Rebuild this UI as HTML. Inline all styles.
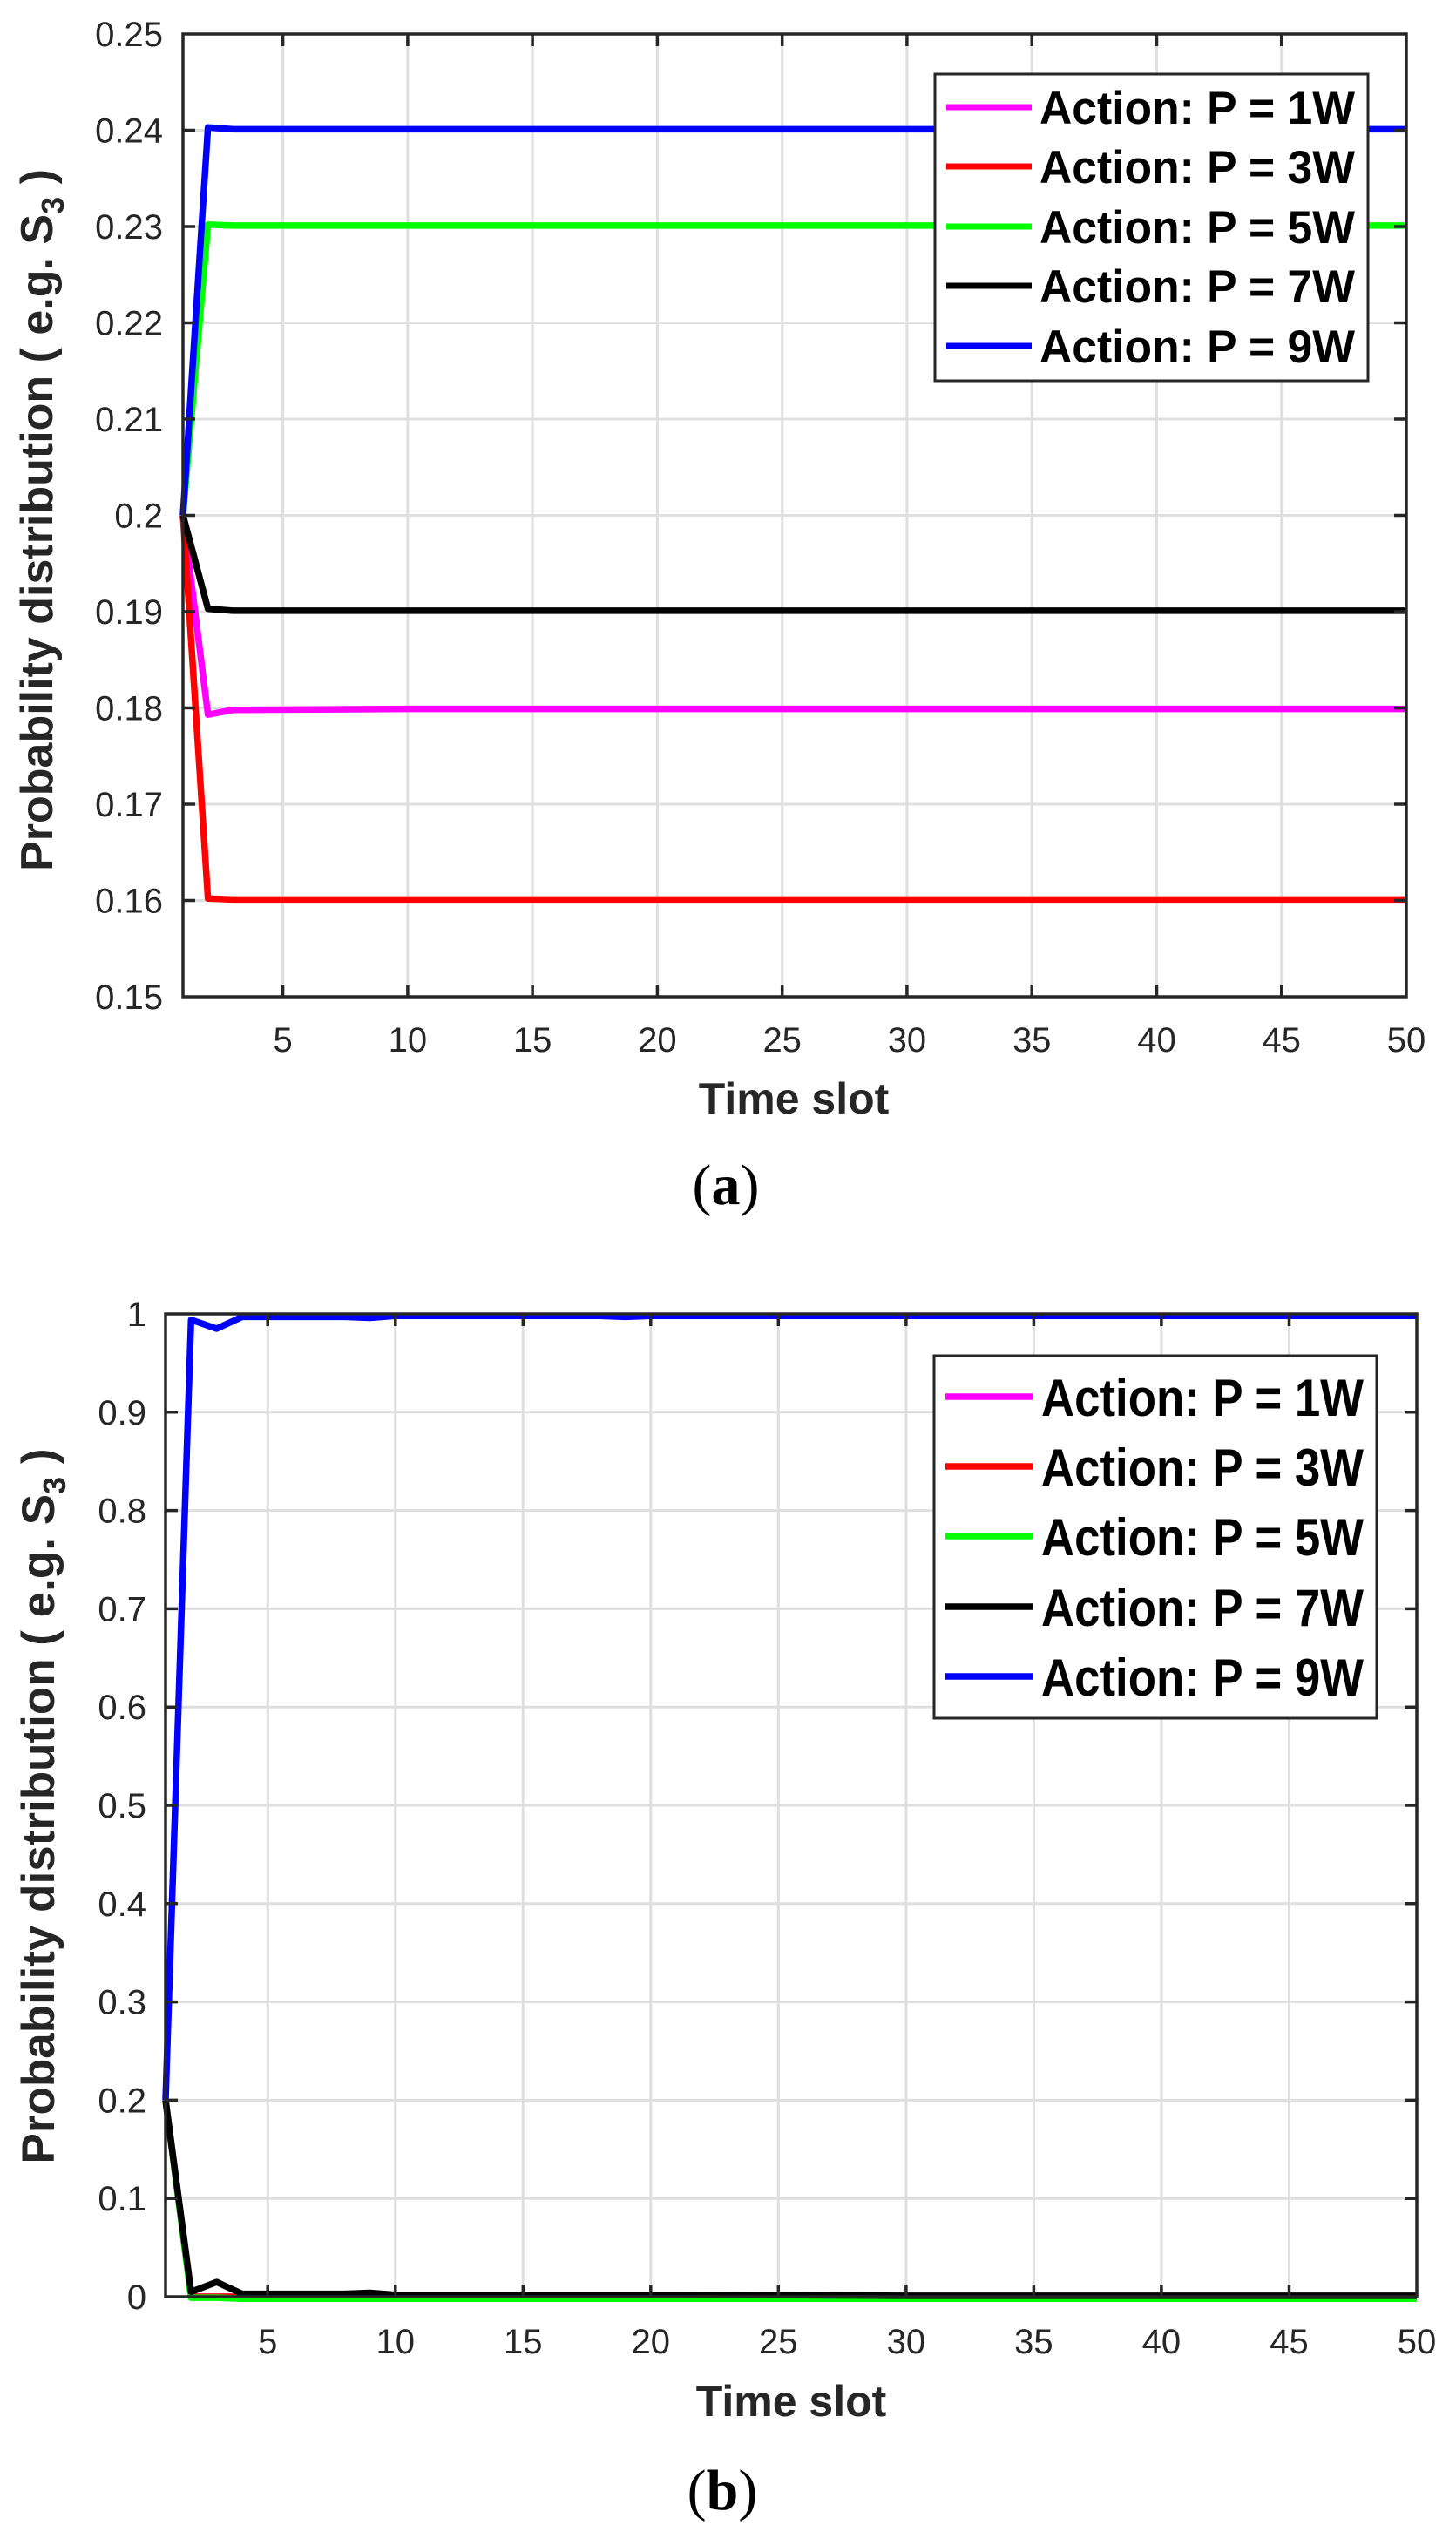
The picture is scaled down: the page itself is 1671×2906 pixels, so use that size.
<!DOCTYPE html>
<html><head><meta charset="utf-8"><style>
html,body{margin:0;padding:0;background:#fff;}
svg{display:block;}
.t{font-family:"Liberation Sans",Arial,sans-serif;font-size:40px;fill:#262626;}
.lab{font-family:"Liberation Sans",Arial,sans-serif;font-weight:bold;fill:#262626;}
.leg{font-family:"Liberation Sans",Arial,sans-serif;font-weight:bold;fill:#000;}
.cap{font-family:"Liberation Serif","Times New Roman",serif;font-size:66px;fill:#000;}
</style></head><body>
<svg width="1671" height="2906" viewBox="0 0 1671 2906" xmlns="http://www.w3.org/2000/svg">
<rect width="1671" height="2906" fill="#fff"/>

<!-- ===== PLOT A ===== -->
<g stroke="#dfdfdf" stroke-width="3">
<line x1="324.6" y1="39" x2="324.6" y2="1144"/><line x1="467.9" y1="39" x2="467.9" y2="1144"/>
<line x1="611.1" y1="39" x2="611.1" y2="1144"/><line x1="754.4" y1="39" x2="754.4" y2="1144"/>
<line x1="897.7" y1="39" x2="897.7" y2="1144"/><line x1="1040.9" y1="39" x2="1040.9" y2="1144"/>
<line x1="1184.2" y1="39" x2="1184.2" y2="1144"/><line x1="1327.5" y1="39" x2="1327.5" y2="1144"/>
<line x1="1470.7" y1="39" x2="1470.7" y2="1144"/>
<line x1="210" y1="1033.5" x2="1614" y2="1033.5"/><line x1="210" y1="923" x2="1614" y2="923"/>
<line x1="210" y1="812.5" x2="1614" y2="812.5"/><line x1="210" y1="702" x2="1614" y2="702"/>
<line x1="210" y1="591.5" x2="1614" y2="591.5"/><line x1="210" y1="481" x2="1614" y2="481"/>
<line x1="210" y1="370.5" x2="1614" y2="370.5"/><line x1="210" y1="260" x2="1614" y2="260"/>
<line x1="210" y1="149.5" x2="1614" y2="149.5"/>
</g>
<g transform="translate(210,1144) scale(28.653,-11050) translate(-1,-0.15)" fill="none" stroke-width="7.5" stroke-linejoin="round">
<polyline vector-effect="non-scaling-stroke" stroke="#ff00ff" points="1,0.2 2,0.1793 3,0.1798 10,0.1799 50,0.1799"/>
<polyline vector-effect="non-scaling-stroke" stroke="#ff0000" points="1,0.2 2,0.1602 3,0.1601 50,0.1601"/>
<polyline vector-effect="non-scaling-stroke" stroke="#00ff00" points="1,0.2 2,0.2302 3,0.2301 50,0.2301"/>
<polyline vector-effect="non-scaling-stroke" stroke="#000000" points="1,0.2 2,0.1903 3,0.1901 50,0.1901"/>
<polyline vector-effect="non-scaling-stroke" stroke="#0000ff" points="1,0.2 2,0.2403 3,0.2401 50,0.2401"/>
</g>
<g stroke="#262626" stroke-width="3.5" fill="none">
<rect x="210" y="39" width="1404" height="1105"/>
<path d="M324.6 1144v-14M467.9 1144v-14M611.1 1144v-14M754.4 1144v-14M897.7 1144v-14M1040.9 1144v-14M1184.2 1144v-14M1327.5 1144v-14M1470.7 1144v-14
M324.6 39v14M467.9 39v14M611.1 39v14M754.4 39v14M897.7 39v14M1040.9 39v14M1184.2 39v14M1327.5 39v14M1470.7 39v14
M210 1033.5h14M210 923h14M210 812.5h14M210 702h14M210 591.5h14M210 481h14M210 370.5h14M210 260h14M210 149.5h14
M1614 1033.5h-14M1614 923h-14M1614 812.5h-14M1614 702h-14M1614 591.5h-14M1614 481h-14M1614 370.5h-14M1614 260h-14M1614 149.5h-14"/>
</g>
<g class="t" text-anchor="end">
<text x="187" y="1158">0.15</text><text x="187" y="1047.5">0.16</text><text x="187" y="937">0.17</text>
<text x="187" y="826.5">0.18</text><text x="187" y="716">0.19</text><text x="187" y="605.5">0.2</text>
<text x="187" y="495">0.21</text><text x="187" y="384.5">0.22</text><text x="187" y="274">0.23</text>
<text x="187" y="163.5">0.24</text><text x="187" y="53">0.25</text>
</g>
<g class="t" text-anchor="middle">
<text x="324.6" y="1207">5</text><text x="467.9" y="1207">10</text><text x="611.1" y="1207">15</text>
<text x="754.4" y="1207">20</text><text x="897.7" y="1207">25</text><text x="1040.9" y="1207">30</text>
<text x="1184.2" y="1207">35</text><text x="1327.5" y="1207">40</text><text x="1470.7" y="1207">45</text>
<text x="1614" y="1207">50</text>
</g>
<text class="lab" font-size="50" x="911" y="1278" text-anchor="middle">Time slot</text>
<text class="lab" font-size="52" transform="translate(60,597) rotate(-90)" text-anchor="middle">Probability distribution ( e.g. S<tspan font-size="36" dy="13">3</tspan><tspan dy="-13"> )</tspan></text>
<!-- legend a -->
<rect x="1073" y="85" width="497" height="352" fill="#fff" stroke="#262626" stroke-width="3"/>
<g stroke-width="7">
<line x1="1086" y1="123" x2="1184" y2="123" stroke="#ff00ff"/>
<line x1="1086" y1="191" x2="1184" y2="191" stroke="#ff0000"/>
<line x1="1086" y1="260" x2="1184" y2="260" stroke="#00ff00"/>
<line x1="1086" y1="328" x2="1184" y2="328" stroke="#000000"/>
<line x1="1086" y1="397" x2="1184" y2="397" stroke="#0000ff"/>
</g>
<g class="leg" font-size="53">
<text x="1193" y="142" textLength="362" lengthAdjust="spacingAndGlyphs">Action: P = 1W</text>
<text x="1193" y="210" textLength="362" lengthAdjust="spacingAndGlyphs">Action: P = 3W</text>
<text x="1193" y="279" textLength="362" lengthAdjust="spacingAndGlyphs">Action: P = 5W</text>
<text x="1193" y="347" textLength="362" lengthAdjust="spacingAndGlyphs">Action: P = 7W</text>
<text x="1193" y="416" textLength="362" lengthAdjust="spacingAndGlyphs">Action: P = 9W</text>
</g>
<text class="cap" x="833" y="1382" text-anchor="middle">(<tspan font-weight="bold">a</tspan>)</text>

<!-- ===== PLOT B ===== -->
<g stroke="#dfdfdf" stroke-width="3">
<line x1="307.2" y1="1508" x2="307.2" y2="2636"/><line x1="453.8" y1="1508" x2="453.8" y2="2636"/>
<line x1="600.3" y1="1508" x2="600.3" y2="2636"/><line x1="746.8" y1="1508" x2="746.8" y2="2636"/>
<line x1="893.3" y1="1508" x2="893.3" y2="2636"/><line x1="1039.9" y1="1508" x2="1039.9" y2="2636"/>
<line x1="1186.4" y1="1508" x2="1186.4" y2="2636"/><line x1="1332.9" y1="1508" x2="1332.9" y2="2636"/>
<line x1="1479.5" y1="1508" x2="1479.5" y2="2636"/>
<line x1="190" y1="2523.2" x2="1626" y2="2523.2"/><line x1="190" y1="2410.4" x2="1626" y2="2410.4"/>
<line x1="190" y1="2297.6" x2="1626" y2="2297.6"/><line x1="190" y1="2184.8" x2="1626" y2="2184.8"/>
<line x1="190" y1="2072" x2="1626" y2="2072"/><line x1="190" y1="1959.2" x2="1626" y2="1959.2"/>
<line x1="190" y1="1846.4" x2="1626" y2="1846.4"/><line x1="190" y1="1733.6" x2="1626" y2="1733.6"/>
<line x1="190" y1="1620.8" x2="1626" y2="1620.8"/>
</g>
<g transform="translate(190,2636) scale(29.306,-1128) translate(-1,0)" fill="none" stroke-width="7.5" stroke-linejoin="round">
<polyline vector-effect="non-scaling-stroke" stroke="#ff00ff" points="1,0.2 2,0 50,0"/>
<polyline vector-effect="non-scaling-stroke" stroke="#ff0000" points="1,0.2 2,0 50,0"/>
<polyline vector-effect="non-scaling-stroke" stroke="#00ff00" points="1,0.2 2,-0.001 3,-0.001 4,-0.002 50,-0.002"/>
<polyline vector-effect="non-scaling-stroke" stroke="#000000" points="1,0.2 2,0.005 3,0.015 4,0.003 8,0.003 9,0.004 10,0.002 20,0.002 21,0.002 30,0.001 50,0.001"/>
<polyline vector-effect="non-scaling-stroke" stroke="#0000ff" points="1,0.2 2,0.994 3,0.985 4,0.997 8,0.997 9,0.996 10,0.998 18,0.998 19,0.997 20,0.998 50,0.998"/>
</g>
<g stroke="#262626" stroke-width="3.5" fill="none">
<rect x="190" y="1508" width="1436" height="1128"/>
<path d="M307.2 2636v-14M453.8 2636v-14M600.3 2636v-14M746.8 2636v-14M893.3 2636v-14M1039.9 2636v-14M1186.4 2636v-14M1332.9 2636v-14M1479.5 2636v-14
M307.2 1508v14M453.8 1508v14M600.3 1508v14M746.8 1508v14M893.3 1508v14M1039.9 1508v14M1186.4 1508v14M1332.9 1508v14M1479.5 1508v14
M190 2523.2h14M190 2410.4h14M190 2297.6h14M190 2184.8h14M190 2072h14M190 1959.2h14M190 1846.4h14M190 1733.6h14M190 1620.8h14
M1626 2523.2h-14M1626 2410.4h-14M1626 2297.6h-14M1626 2184.8h-14M1626 2072h-14M1626 1959.2h-14M1626 1846.4h-14M1626 1733.6h-14M1626 1620.8h-14"/>
</g>
<g class="t" text-anchor="end">
<text x="168" y="2650">0</text><text x="168" y="2537.2">0.1</text><text x="168" y="2424.4">0.2</text>
<text x="168" y="2311.6">0.3</text><text x="168" y="2198.8">0.4</text><text x="168" y="2086">0.5</text>
<text x="168" y="1973.2">0.6</text><text x="168" y="1860.4">0.7</text><text x="168" y="1747.6">0.8</text>
<text x="168" y="1634.8">0.9</text><text x="168" y="1522">1</text>
</g>
<g class="t" text-anchor="middle">
<text x="307.2" y="2701">5</text><text x="453.8" y="2701">10</text><text x="600.3" y="2701">15</text>
<text x="746.8" y="2701">20</text><text x="893.3" y="2701">25</text><text x="1039.9" y="2701">30</text>
<text x="1186.4" y="2701">35</text><text x="1332.9" y="2701">40</text><text x="1479.5" y="2701">45</text>
<text x="1626" y="2701">50</text>
</g>
<text class="lab" font-size="50" x="908" y="2773" text-anchor="middle">Time slot</text>
<text class="lab" font-size="53" transform="translate(62,2073) rotate(-90)" text-anchor="middle">Probability distribution ( e.g. S<tspan font-size="36" dy="13">3</tspan><tspan dy="-13"> )</tspan></text>
<!-- legend b -->
<rect x="1072" y="1556" width="508" height="416" fill="#fff" stroke="#262626" stroke-width="3"/>
<g stroke-width="7.5">
<line x1="1085" y1="1603" x2="1185" y2="1603" stroke="#ff00ff"/>
<line x1="1085" y1="1683" x2="1185" y2="1683" stroke="#ff0000"/>
<line x1="1085" y1="1763" x2="1185" y2="1763" stroke="#00ff00"/>
<line x1="1085" y1="1844" x2="1185" y2="1844" stroke="#000000"/>
<line x1="1085" y1="1924" x2="1185" y2="1924" stroke="#0000ff"/>
</g>
<g class="leg" font-size="60">
<text x="1195" y="1625" textLength="370" lengthAdjust="spacingAndGlyphs">Action: P = 1W</text>
<text x="1195" y="1705" textLength="370" lengthAdjust="spacingAndGlyphs">Action: P = 3W</text>
<text x="1195" y="1785" textLength="370" lengthAdjust="spacingAndGlyphs">Action: P = 5W</text>
<text x="1195" y="1866" textLength="370" lengthAdjust="spacingAndGlyphs">Action: P = 7W</text>
<text x="1195" y="1946" textLength="370" lengthAdjust="spacingAndGlyphs">Action: P = 9W</text>
</g>
<text class="cap" x="829" y="2880" text-anchor="middle">(<tspan font-weight="bold">b</tspan>)</text>
</svg>
</body></html>
